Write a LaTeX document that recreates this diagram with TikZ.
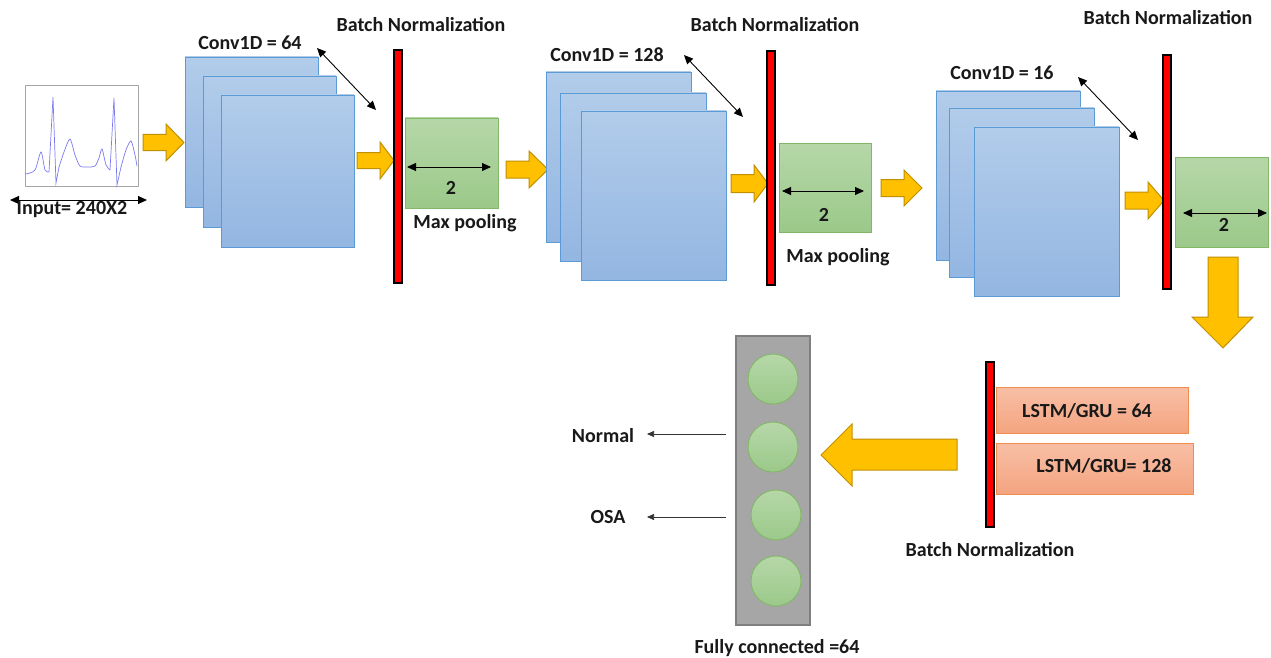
\documentclass[tikz,border=0pt]{standalone}
\usepackage{fontspec}
\setmainfont{Carlito}
\usetikzlibrary{arrows.meta}
\definecolor{orfill}{HTML}{FFC000}
\definecolor{ordraw}{HTML}{BF9000}
\definecolor{convtop}{HTML}{B2CCEA}
\definecolor{convbot}{HTML}{93B6E2}
\definecolor{convdraw}{HTML}{5B9BD5}
\definecolor{pooltop}{HTML}{B6D7A8}
\definecolor{poolbot}{HTML}{9BC98A}
\definecolor{pooldraw}{HTML}{82B866}
\definecolor{lstmtop}{HTML}{F8BFA6}
\definecolor{lstmbot}{HTML}{F4A480}
\definecolor{lstmdraw}{HTML}{F08C4E}
\definecolor{fcfill}{HTML}{A6A6A6}
\definecolor{fcdraw}{HTML}{7F7F7F}
\definecolor{ecgblue}{HTML}{7B7BF0}
\tikzset{
  x=1pt, y=-1pt,
  lbl/.style={font=\bfseries\fontsize{20}{24}\selectfont, inner sep=0pt, text=black!90},
  convbox/.style={draw=convdraw, line width=0.9pt, top color=convtop, bottom color=convbot, inner sep=0pt, outer sep=0pt},
  poolbox/.style={draw=pooldraw, line width=0.9pt, top color=pooltop, bottom color=poolbot, inner sep=0pt, outer sep=0pt},
  lstmbox/.style={draw=lstmdraw, line width=0.9pt, top color=lstmtop, bottom color=lstmbot, inner sep=0pt, outer sep=0pt},
  bnbar/.style={draw=black, line width=1.1pt, fill=red, inner sep=0pt, outer sep=0pt},
  fcbox/.style={draw=fcdraw, line width=1.1pt, fill=fcfill, inner sep=0pt, outer sep=0pt},
  neuron/.style={circle, draw=pooldraw, line width=0.9pt, top color=pooltop, bottom color=poolbot, inner sep=0pt, minimum size=50pt},
  inbox/.style={draw=black!35, line width=1pt, fill=white, inner sep=0pt, outer sep=0pt},
  orarrow/.style={draw=ordraw, line width=1pt, fill=orfill, line join=miter},
  dbl/.style={draw=black, line width=0.9pt, {Triangle[width=8pt,length=9pt]}-{Triangle[width=8pt,length=9pt]}},
  outarrow/.style={draw=black!80, line width=0.6pt, -{Triangle[width=6pt,length=7pt]}},
  ecg/.style={draw=ecgblue, line width=0.7pt},
}
% box: style, x1, y1, x2, y2, name
\newcommand\mybox[6]{\node[#1, minimum width={#4-#2}, minimum height={#5-#3}, anchor=north west] (#6) at (#2,#3) {};}
% right block arrow: x1, x2, yc, H, h, headstart
\newcommand\rarrow[6]{\draw[orarrow] (#1,{#3-#5}) -- (#6,{#3-#5}) -- (#6,{#3-#4}) -- (#2,#3) -- (#6,{#3+#4}) -- (#6,{#3+#5}) -- (#1,{#3+#5}) -- cycle;}
\begin{document}
\begin{tikzpicture}
\useasboundingbox (0,0) rectangle (1271,658);
\fill[white] (0,0) rectangle (1271,658);

% input
\mybox{inbox}{25}{86}{138}{186}{in}
\draw[ecg] plot[smooth, tension=0.45] coordinates {(26,174) (35,170) (41,152) (45,170) (49,172)};
\draw[ecg] (49,172) -- (53,97) -- (56,183) -- (59,167);
\draw[ecg] plot[smooth, tension=0.45] coordinates {(59,167) (64,152) (70,139) (75,155) (80,166) (88,167) (95,166) (99,158) (102,149) (106,165) (110,170)};
\draw[ecg] (110,170) -- (114,98) -- (117,185) -- (121,167);
\draw[ecg] plot[smooth, tension=0.45] coordinates {(121,167) (126,150) (131,141) (135,155) (137,166)};
\coordinate (inL) at (10,200);
\coordinate (inR) at (147,200);
\draw[dbl] (inL) -- (inR);
\node[lbl] (inlbl) at (72,210) {Input= 240X2};

\rarrow{143}{184}{142.5}{18.5}{8}{166}

% block 1
\mybox{convbox}{185}{57}{318}{207}{c1a}
\mybox{convbox}{203}{76}{336}{227}{c1b}
\mybox{convbox}{221}{95}{354}{247}{c1c}
\node[lbl] (c1lbl) at (250,43) {Conv1D = 64};
\coordinate (d1a) at (317,48);
\coordinate (d1b) at (376,110);
\draw[dbl] (d1a) -- (d1b);
\rarrow{357}{394}{160.5}{18.5}{8}{380}
\mybox{bnbar}{394}{50}{402}{283}{bn1}
\node[lbl] (bn1lbl) at (421,25) {Batch Normalization};
\mybox{poolbox}{405}{118}{498}{208}{p1}
\coordinate (p1l) at (407,167);
\coordinate (p1r) at (491,167);
\draw[dbl] (p1l) -- (p1r);
\node[lbl] (p1n) at (451,188) {2};
\node[lbl] (p1lbl) at (465,223) {Max pooling};

\rarrow{506}{548}{169.5}{18.5}{8.5}{529}

% block 2
\mybox{convbox}{546}{72}{691}{242}{c2a}
\mybox{convbox}{560}{93}{706}{261}{c2b}
\mybox{convbox}{581}{111}{726}{280}{c2c}
\node[lbl] (c2lbl) at (607,55) {Conv1D = 128};
\coordinate (d2a) at (684,55);
\coordinate (d2b) at (743,117);
\draw[dbl] (d2a) -- (d2b);
\rarrow{731}{768}{183.5}{18.5}{9}{754}
\mybox{bnbar}{767}{51}{775}{285}{bn2}
\node[lbl] (bn2lbl) at (775,25) {Batch Normalization};
\mybox{poolbox}{779}{143}{871}{232}{p2}
\coordinate (p2l) at (782,191);
\coordinate (p2r) at (864,191);
\draw[dbl] (p2l) -- (p2r);
\node[lbl] (p2n) at (824,215) {2};
\node[lbl] (p2lbl) at (838,257) {Max pooling};

\rarrow{881}{922}{188}{18}{8.5}{904}

% block 3
\mybox{convbox}{936}{91}{1080}{260}{c3a}
\mybox{convbox}{949}{108}{1094}{277}{c3b}
\mybox{convbox}{974}{127}{1119}{296}{c3c}
\node[lbl] (c3lbl) at (1002,73) {Conv1D = 16};
\coordinate (d3a) at (1078,77);
\coordinate (d3b) at (1138,140);
\draw[dbl] (d3a) -- (d3b);
\rarrow{1125}{1164}{200.5}{18.5}{8.5}{1148}
\mybox{bnbar}{1163}{55}{1171}{289}{bn3}
\node[lbl] (bn3lbl) at (1168,18) {Batch Normalization};
\mybox{poolbox}{1175}{157}{1268}{247}{p3}
\coordinate (p3l) at (1183,213);
\coordinate (p3r) at (1267,213);
\draw[dbl] (p3l) -- (p3r);
\node[lbl] (p3n) at (1224,225) {2};

% down arrow
\draw[orarrow] (1208,257) -- (1238,257) -- (1238,317) -- (1253,317) -- (1223,348) -- (1192,317) -- (1208,317) -- cycle;

% LSTM
\mybox{bnbar}{986}{362}{994}{527}{bn4}
\mybox{lstmbox}{996}{387}{1188}{433}{l1}
\mybox{lstmbox}{996}{443}{1193}{494}{l2}
\node[lbl] (l1lbl) at (1087,411) {LSTM/GRU = 64};
\node[lbl] (l2lbl) at (1104,466) {LSTM/GRU= 128};
\node[lbl] (bn4lbl) at (990,550) {Batch Normalization};

% left arrow
\draw[orarrow] (957,439) -- (852,439) -- (852,424) -- (821,455) -- (852,486) -- (852,470) -- (957,470) -- cycle;

% fully connected
\mybox{fcbox}{736}{336}{810}{625}{fc}
\node[neuron] (n1) at (773,379) {};
\node[neuron] (n2) at (773,447) {};
\node[neuron] (n3) at (776,515) {};
\node[neuron] (n4) at (776,581) {};
\node[lbl] (fclbl) at (777,648) {Fully connected =64};
\node[lbl] (normal) at (603,436) {Normal};
\node[lbl] (osa) at (608,517) {OSA};
\coordinate (o1) at (726,434);
\coordinate (o2) at (726,517);
\draw[outarrow] (o1) -- (647,434);
\draw[outarrow] (o2) -- (647,517);
\end{tikzpicture}
\end{document}
